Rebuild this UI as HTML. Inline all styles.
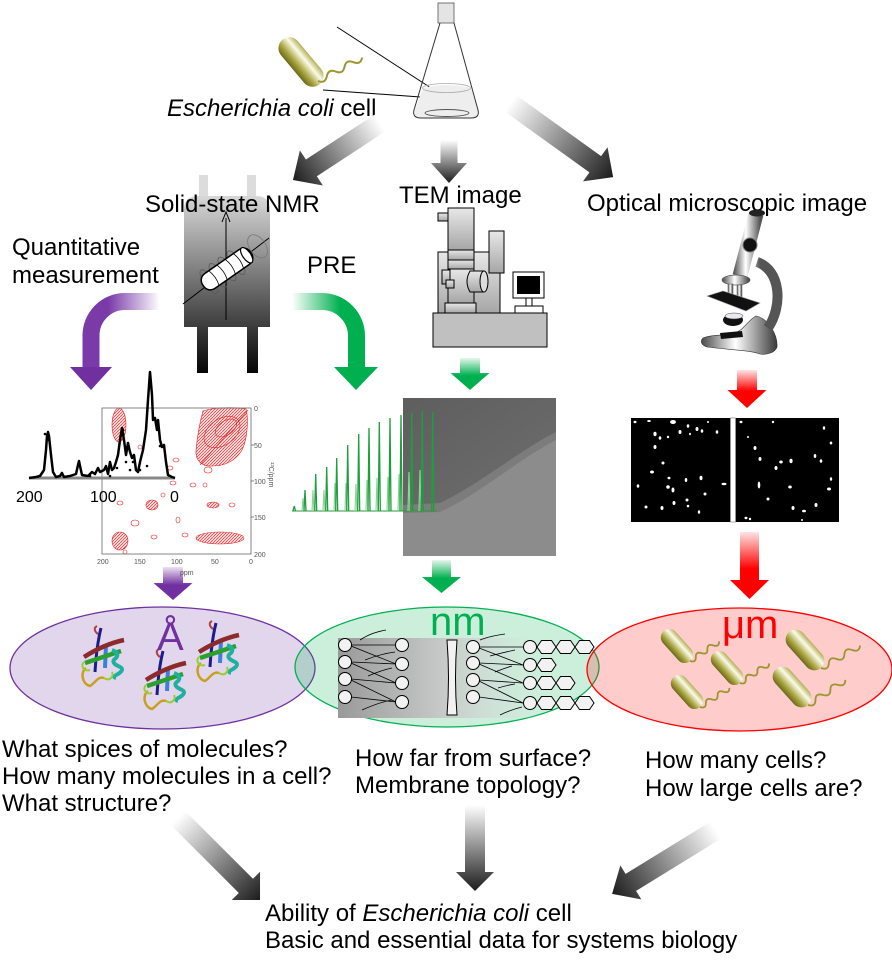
<!DOCTYPE html>
<html><head><meta charset="utf-8"><style>
html,body{margin:0;padding:0;background:#fff;}
svg{display:block;}
text{font-family:"Liberation Sans",Arial,sans-serif;}
</style></head><body>
<svg width="892" height="960" viewBox="0 0 892 960" xmlns="http://www.w3.org/2000/svg">
<defs>
<linearGradient id="gA" x1="0" y1="0" x2="1" y2="0"><stop offset="0" stop-color="#ffffff"/><stop offset="1" stop-color="#1c1c1c"/></linearGradient>
<linearGradient id="gG" x1="0" y1="0" x2="1" y2="0"><stop offset="0" stop-color="#e6f7ec"/><stop offset="0.55" stop-color="#00b050"/><stop offset="1" stop-color="#00b050"/></linearGradient>
<linearGradient id="gR" x1="0" y1="0" x2="1" y2="0"><stop offset="0" stop-color="#ffe4e4"/><stop offset="0.55" stop-color="#ff0000"/><stop offset="1" stop-color="#ff0000"/></linearGradient>
<linearGradient id="gP" x1="0" y1="0" x2="1" y2="0"><stop offset="0" stop-color="#ece2f3"/><stop offset="0.55" stop-color="#7030a0"/><stop offset="1" stop-color="#7030a0"/></linearGradient>
<linearGradient id="gPc" gradientUnits="userSpaceOnUse" x1="160" y1="0" x2="108" y2="0"><stop offset="0" stop-color="#ffffff"/><stop offset="1" stop-color="#7a3aa8"/></linearGradient>
<linearGradient id="gGc" gradientUnits="userSpaceOnUse" x1="292" y1="0" x2="340" y2="0"><stop offset="0" stop-color="#ffffff"/><stop offset="1" stop-color="#00b050"/></linearGradient>
<linearGradient id="gN" x1="0" y1="0" x2="0" y2="1"><stop offset="0" stop-color="#d8d8d8"/><stop offset="1" stop-color="#3c3c3c"/></linearGradient>
<linearGradient id="gL" x1="0" y1="0" x2="0" y2="1"><stop offset="0" stop-color="#3a3a3a"/><stop offset="1" stop-color="#050505"/></linearGradient>
<linearGradient id="gT" x1="0" y1="0" x2="0" y2="1"><stop offset="0" stop-color="#e8e8e8"/><stop offset="1" stop-color="#a6a6a6"/></linearGradient>
<linearGradient id="gM" x1="0" y1="0" x2="1" y2="0"><stop offset="0" stop-color="#4a4a4a"/><stop offset="0.45" stop-color="#ffffff"/><stop offset="1" stop-color="#3a3a3a"/></linearGradient>
<linearGradient id="gMt" gradientUnits="userSpaceOnUse" x1="734" y1="0" x2="760" y2="0"><stop offset="0" stop-color="#555"/><stop offset="0.45" stop-color="#fff"/><stop offset="1" stop-color="#555"/></linearGradient>
<linearGradient id="gO" x1="0" y1="0" x2="0" y2="1"><stop offset="0" stop-color="#b3af55"/><stop offset="0.3" stop-color="#fbfbe8"/><stop offset="0.7" stop-color="#a9a540"/><stop offset="1" stop-color="#6c691a"/></linearGradient>
<linearGradient id="gMem" x1="0" y1="0" x2="1" y2="0"><stop offset="0" stop-color="#999" stop-opacity="1"/><stop offset="0.5" stop-color="#c4c4c4" stop-opacity="0.9"/><stop offset="1" stop-color="#dcdcdc" stop-opacity="0"/></linearGradient>
<linearGradient id="gTem" x1="0" y1="0" x2="1" y2="1"><stop offset="0" stop-color="#5e5e5e"/><stop offset="1" stop-color="#6e6e6e"/></linearGradient>
<pattern id="rt" width="3" height="3" patternUnits="userSpaceOnUse"><rect width="3" height="3" fill="#fbe2e2"/><path d="M0,3 L3,0" stroke="#e83030" stroke-width="0.7"/></pattern>
<g id="prot">
  <path d="M101,628 C98,640 96,655 95,672" stroke="#1c1c8c" stroke-width="3" fill="none"/>
  <path d="M106,645 L105,668" stroke="#3a80dc" stroke-width="4" fill="none"/>
  <path d="M84,657 C95,650 110,643 124,640" stroke="#8b2b2b" stroke-width="4.5" fill="none"/>
  <path d="M85,663 L121,651" stroke="#2ca02c" stroke-width="4.5" fill="none"/>
  <path d="M112,650 q8,3 4,8 q-6,4 2,8 q8,3 0,8 q-6,3 -2,4" stroke="#1fb0a0" stroke-width="4" fill="none"/>
  <path d="M86,668 C80,672 82,684 90,686 C96,682 98,676 104,678" stroke="#c8a020" stroke-width="2.5" fill="none"/>
  <path d="M84,662 C80,666 84,672 90,670 M104,678 C110,682 114,676 112,672" stroke="#9acd32" stroke-width="2" fill="none"/>
  <path d="M98,634 C95,632 93,628 97,626" stroke="#b04040" stroke-width="2" fill="none"/>
</g>
<g id="cap"><rect x="-20" y="-8.5" width="40" height="17" rx="8.5" fill="url(#gO)"/></g>
<g id="capL"><rect x="-24" y="-10" width="48" height="20" rx="10" fill="url(#gO)"/></g>
</defs>

<!-- ===== TOP: E. coli + flask ===== -->
<line x1="337" y1="27" x2="448" y2="99" stroke="#000" stroke-width="1"/>
<line x1="323" y1="90" x2="448" y2="99" stroke="#000" stroke-width="1"/>
<g transform="translate(301,62) rotate(50)"><rect x="-29" y="-11" width="58" height="22" rx="11" fill="url(#gO)"/></g>
<path transform="translate(318,81) rotate(-28)" d="M0,0 q5,6 10,0 t10,0 t10,0 t10,0 t10,0" stroke="#9a9630" stroke-width="2" fill="none"/>
<rect x="438" y="3" width="16" height="20" fill="#e4e4e4" stroke="#555" stroke-width="0.8"/>
<path d="M423,88 Q446,82 471,88 L478,110 Q479,118 470,118 L422,118 Q413,118 415,110 Z" fill="#eeeeee"/>
<path d="M440,23 L414,110 Q412,118 421,118 L471,118 Q480,118 478,110 L454,23" fill="none" stroke="#333" stroke-width="1"/>
<ellipse cx="446.5" cy="88" rx="24" ry="4.5" fill="none" stroke="#aaa" stroke-width="0.8"/>
<ellipse cx="447" cy="113" rx="22" ry="3.5" fill="none" stroke="#555" stroke-width="0.9"/>
<text x="167" y="116" font-size="24"><tspan font-style="italic">Escherichia coli</tspan> cell</text>

<!-- gray arrows top -->
<path transform="translate(380,123) rotate(146.8)" d="M0,-10 H82 V-21 L104,0 L82,21 V10 H0 Z" fill="url(#gA)"/>
<path transform="translate(449,140) rotate(90)" d="M0,-8.5 H23 V-18 L43,0 L23,18 V8.5 H0 Z" fill="url(#gA)"/>
<path transform="translate(510,103) rotate(35.7)" d="M0,-10 H105 V-21 L127,0 L105,21 V10 H0 Z" fill="url(#gA)"/>

<!-- ===== NMR magnet ===== -->
<rect x="199" y="175" width="9" height="24" fill="#dcdcdc"/>
<rect x="247" y="175" width="9" height="24" fill="#dcdcdc"/>
<path d="M184,327 V210 Q184,196 198,196 H256 Q270,196 270,210 V327 Z" fill="url(#gN)"/>
<rect x="197" y="327" width="11" height="46" fill="url(#gL)"/>
<rect x="247" y="327" width="11" height="46" fill="url(#gL)"/>
<line x1="226" y1="320" x2="226" y2="218" stroke="#000" stroke-width="1"/>
<path d="M222,222 L226,212 L230,222" fill="none" stroke="#000" stroke-width="1"/>
<line x1="183" y1="304" x2="269" y2="238" stroke="#000" stroke-width="1"/>
<g transform="translate(227,269) rotate(-35)">
  <ellipse cx="-22" cy="0" rx="5" ry="14" fill="none" stroke="#555" stroke-width="0.7"/>
  <ellipse cx="-11" cy="0" rx="5" ry="14" fill="none" stroke="#555" stroke-width="0.7"/>
  <ellipse cx="0" cy="0" rx="5" ry="14" fill="none" stroke="#555" stroke-width="0.7"/>
  <ellipse cx="11" cy="0" rx="5" ry="14" fill="none" stroke="#555" stroke-width="0.7"/>
  <rect x="-29" y="-9" width="58" height="18" rx="8" fill="#fff" stroke="#000" stroke-width="1.5"/>
  <ellipse cx="24" cy="0" rx="4" ry="9" fill="#fff" stroke="#000" stroke-width="1.2"/>
  <path d="M-16,-9 q3,9 0,18 M-6,-9 q3,9 0,18 M4,-9 q3,9 0,18 M14,-9 q3,9 0,18" stroke="#000" stroke-width="0.8" fill="none"/>
  <ellipse cx="38" cy="-1" rx="8" ry="13" fill="none" stroke="#777" stroke-width="0.8"/>
</g>
<text x="145" y="212" font-size="24">Solid-state NMR</text>
<text x="12" y="255" font-size="24">Quantitative</text>
<text x="12" y="283" font-size="24">measurement</text>
<text x="307" y="273" font-size="24">PRE</text>

<!-- curved arrows -->
<path d="M158,301.5 H125 A34,34 0 0 0 91,335.5 V368" fill="none" stroke="url(#gPc)" stroke-width="17"/>
<polygon points="70,367 112,367 91,390" fill="#7030a0"/>
<path d="M292,301.5 H322 A34.5,34.5 0 0 1 356.5,336 V368" fill="none" stroke="url(#gGc)" stroke-width="17"/>
<polygon points="334,367 378,367 356,390" fill="#00b050"/>

<!-- ===== TEM ===== -->
<text x="399" y="203" font-size="24">TEM image</text>
<rect x="438" y="252" width="62" height="61" fill="url(#gT)" stroke="#000" stroke-width="1"/>
<rect x="489" y="231" width="15" height="42" fill="url(#gT)" stroke="#000" stroke-width="1"/>
<rect x="438" y="213" width="10" height="8" fill="url(#gT)" stroke="#000" stroke-width="1"/>
<rect x="448" y="208" width="26" height="42" fill="url(#gT)" stroke="#000" stroke-width="1"/>
<rect x="448" y="250" width="26" height="10" fill="url(#gT)" stroke="#000" stroke-width="1"/>
<rect x="448" y="260" width="26" height="9" fill="url(#gT)" stroke="#000" stroke-width="1"/>
<rect x="448" y="269" width="26" height="34" fill="url(#gT)" stroke="#000" stroke-width="1"/>
<rect x="442" y="270" width="8" height="14" fill="url(#gT)" stroke="#000" stroke-width="1"/>
<rect x="446" y="280" width="8" height="8" fill="url(#gT)" stroke="#000" stroke-width="1"/>
<rect x="445" y="303" width="31" height="10" fill="url(#gT)" stroke="#000" stroke-width="1"/>
<path d="M470,271 H484 V292 H470 Q464,281.5 470,271 Z" fill="url(#gT)" stroke="#000" stroke-width="1"/>
<ellipse cx="484" cy="281.5" rx="4" ry="10.5" fill="#ddd" stroke="#000" stroke-width="1"/>
<rect x="433" y="313" width="114" height="34" fill="#c0c0c0" stroke="#000" stroke-width="1"/>
<rect x="513" y="272" width="31" height="26" fill="#fff" stroke="#000" stroke-width="1"/>
<rect x="517" y="276" width="23" height="18" fill="#000"/>
<rect x="526" y="298" width="6" height="8" fill="#fff" stroke="#000" stroke-width="1"/>
<rect x="515" y="306" width="28" height="7" fill="#fff" stroke="#000" stroke-width="1"/>

<!-- ===== Microscope ===== -->
<text x="587" y="211" font-size="24">Optical microscopic image</text>
<path d="M703,338 C712,334 725,336 735,333 C744,330 748,320 756,316 C768,318 778,335 777,347 C775,353 766,355 760,354 C750,350 730,350 707,347 C701,345 700,341 703,338 Z" fill="url(#gM)" stroke="#333" stroke-width="0.6"/>
<path d="M757,262 C781,270 783,306 768,328" fill="none" stroke="url(#gMt)" stroke-width="10"/>
<line x1="756" y1="214" x2="740" y2="276" stroke="url(#gMt)" stroke-width="15"/>
<ellipse cx="757" cy="213" rx="8" ry="3.5" fill="#222"/>
<circle cx="750" cy="245" r="7" fill="#111" stroke="#777" stroke-width="1"/>
<ellipse cx="736" cy="280" rx="14" ry="5" fill="url(#gM)" stroke="#555" stroke-width="0.7"/>
<rect x="728" y="284" width="5" height="12" fill="url(#gM)" stroke="#555" stroke-width="0.5"/>
<rect x="737" y="285" width="5" height="12" fill="url(#gM)" stroke="#555" stroke-width="0.5"/>
<polygon points="707,296 723,291 760,303 746,311" fill="#111" stroke="#999" stroke-width="0.6"/>
<ellipse cx="733" cy="320" rx="10" ry="6" fill="#111"/>
<ellipse cx="734" cy="316" rx="9" ry="3" fill="#e8e8f0" stroke="#444" stroke-width="0.5"/>
<polygon points="720,333 742,331 743,337 721,339" fill="#111"/>

<!-- small straight arrows -->
<path transform="translate(470,358) rotate(90)" d="M0,-10 H15 V-19.5 L32,0 L15,19.5 V10 H0 Z" fill="url(#gG)"/>
<path transform="translate(747,370) rotate(90)" d="M0,-10 H20 V-19.5 L38,0 L20,19.5 V10 H0 Z" fill="url(#gR)"/>
<path transform="translate(749.5,532) rotate(90)" d="M0,-9.5 H48 V-19.5 L67,0 L48,19.5 V9.5 H0 Z" fill="url(#gR)"/>
<path transform="translate(173,567) rotate(90)" d="M0,-10 H16 V-19.5 L33,0 L16,19.5 V10 H0 Z" fill="url(#gP)"/>
<path transform="translate(441.5,560) rotate(90)" d="M0,-9.5 H17 V-19.5 L33,0 L17,19.5 V9.5 H0 Z" fill="url(#gG)"/>

<!-- ===== 2D NMR plot ===== -->
<g fill="url(#rt)" stroke="#e62020" stroke-width="0.6">
  <path d="M203,411 C215,407 235,407 246,409 C249,420 247,440 242,450 C236,460 226,466 212,466 C202,467 195,460 196,450 C197,440 199,425 203,411 Z"/>
  <ellipse cx="119" cy="425" rx="7" ry="17"/>
  <ellipse cx="220" cy="538" rx="24" ry="6"/>
  <ellipse cx="120" cy="541" rx="8" ry="9"/>
  <ellipse cx="152" cy="505" rx="6" ry="5"/>
  <ellipse cx="213" cy="505" rx="6" ry="3"/>
</g>
<g fill="none" stroke="#e62020" stroke-width="0.6">
  <ellipse cx="222" cy="432" rx="20" ry="13" transform="rotate(-35 222 432)"/>
  <ellipse cx="226" cy="428" rx="12" ry="7" transform="rotate(-35 226 428)"/>
  <line x1="248" y1="410" x2="200" y2="465"/>
  <ellipse cx="208" cy="470" rx="4" ry="3"/>
  <ellipse cx="135" cy="523" rx="4" ry="3"/><ellipse cx="154" cy="537" rx="3" ry="2"/>
  <ellipse cx="185" cy="535" rx="3" ry="2"/><ellipse cx="173" cy="483" rx="3" ry="2"/>
  <ellipse cx="193" cy="485" rx="3" ry="2"/><ellipse cx="178" cy="520" rx="2" ry="3"/>
  <ellipse cx="120" cy="503" rx="3" ry="2"/><ellipse cx="163" cy="495" rx="2" ry="2"/>
  <ellipse cx="176" cy="460" rx="3" ry="2"/><ellipse cx="170" cy="468" rx="3" ry="2"/>
  <ellipse cx="140" cy="447" rx="2" ry="2"/><ellipse cx="205" cy="485" rx="2" ry="2"/>
  <ellipse cx="232" cy="505" rx="3" ry="2"/><ellipse cx="125" cy="552" rx="2" ry="2"/>
</g>
<rect x="102" y="408" width="149" height="146" fill="none" stroke="#666" stroke-width="0.8"/>
<g stroke="#666" stroke-width="0.8">
  <line x1="251" y1="445" x2="254" y2="445"/><line x1="251" y1="481" x2="254" y2="481"/><line x1="251" y1="517" x2="254" y2="517"/>
</g>
<g font-size="7" fill="#555">
  <text x="254" y="411">0</text><text x="254" y="448">50</text><text x="254" y="484">100</text><text x="254" y="520">150</text><text x="254" y="557">200</text>
  <text x="97" y="564">200</text><text x="134" y="564">150</text><text x="171" y="564">100</text><text x="211" y="564">50</text><text x="249" y="564">0</text>
  <text x="180" y="575">ppm</text>
  <text transform="translate(269,462) rotate(90)">¹³C/ppm</text>
</g>
<!-- 1D spectrum -->
<line x1="29" y1="478" x2="175" y2="478" stroke="#888" stroke-width="3"/>
<polyline fill="none" stroke="#000" stroke-width="2.5" stroke-linejoin="round" points="29,478 36,477 40,476 44,470 46,450 47,436 48,432 49,436 51,455 53,472 56,477 60,476 62,473 64,477 70,476 76,474 78,465 79,461 80,466 82,475 88,476 92,472 95,474 98,468 100,472 104,470 106,466 108,474 110,462 112,470 114,468 116,462 118,455 120,440 122,428 124,440 126,455 128,443 130,452 132,458 134,455 136,470 138,472 140,462 143,450 146,430 148,400 150,372 152,395 153,420 155,418 157,430 158,420 160,440 162,447 164,445 166,462 168,475 172,477 175,478"/>
<g fill="#000">
  <circle cx="45" cy="434" r="1.3"/><circle cx="49" cy="440" r="1.3"/><circle cx="123" cy="430" r="1.3"/><circle cx="117" cy="468" r="1.3"/>
  <circle cx="126" cy="462" r="1.3"/><circle cx="130" cy="470" r="1.3"/><circle cx="140" cy="470" r="1.3"/><circle cx="147" cy="466" r="1.3"/>
  <circle cx="160" cy="446" r="1.3"/><circle cx="110" cy="476" r="1.3"/><circle cx="90" cy="476" r="1.3"/><circle cx="133" cy="462" r="1.3"/>
</g>
<text x="16" y="502" font-size="16">200</text>
<text x="90" y="502" font-size="16">100</text>
<text x="170" y="502" font-size="16">0</text>

<!-- ===== TEM image & PRE ===== -->
<rect x="403" y="398" width="153" height="158" fill="#8c8c8c"/>
<path d="M403,398 H556 V440 C520,458 480,494 440,512 L403,513 Z" fill="#7c7c7c"/>
<path d="M403,398 H556 V432 C520,450 480,484 440,503 L403,505 Z" fill="url(#gTem)"/>
<line x1="292" y1="511" x2="437" y2="511" stroke="#2a9a3a" stroke-width="1"/>
<g stroke="#8fd39a" stroke-width="1.2" fill="none">
  <path d="M302,511 L303,498 L304,511"/><path d="M312,511 L313,490 L314,511"/><path d="M323,511 L324,490 L325,511"/>
  <path d="M334,511 L335,483 L336,511"/><path d="M345,511 L346,483 L347,511"/><path d="M355,511 L356,484 L357,511"/>
  <path d="M366,511 L367,480 L368,511"/><path d="M376,511 L377,478 L378,511"/><path d="M387,511 L388,477 L389,511"/>
  <path d="M398,511 L399,474 L400,511"/><path d="M408,511 L409,472 L410,511"/><path d="M419,511 L420,470 L421,511"/>
</g>
<g stroke="#1e9e3c" stroke-width="1.3" fill="none">
  <path d="M293,511 L294.3,506 L295.5,511"/><path d="M304,511 L305,490 L306,511"/><path d="M314.7,511 L315.7,474 L316.7,511"/>
  <path d="M325.7,511 L326.7,467 L327.7,511"/><path d="M335.7,511 L336.7,458 L337.7,511"/><path d="M346.7,511 L347.7,445 L348.7,511"/>
  <path d="M357.7,511 L358.7,434 L359.7,511"/><path d="M368,511 L369,428 L370,511"/><path d="M378.3,511 L379.3,422 L380.3,511"/>
  <path d="M389,511 L390,418 L391,511"/><path d="M400,511 L401,415 L402,511"/><path d="M410.7,511 L411.7,413 L412.7,511"/>
  <path d="M421.3,511 L422.3,411 L423.3,511"/><path d="M431.7,511 L432.7,412 L433.7,511"/>
</g>

<!-- ===== Microscope image ===== -->
<rect x="631" y="418" width="208" height="104" fill="#000"/>
<rect x="730.5" y="418" width="5" height="104" fill="#fff" stroke="#999" stroke-width="0.8"/>
<g fill="#fff">
  <ellipse cx="635" cy="422" rx="1.5" ry="1.2"/><ellipse cx="649" cy="421" rx="1.8" ry="1"/><ellipse cx="673" cy="422" rx="3" ry="2"/>
  <ellipse cx="688" cy="426" rx="1.3" ry="1.8"/><ellipse cx="697" cy="429" rx="1.5" ry="2"/><ellipse cx="702" cy="431" rx="1.3" ry="1.8"/>
  <ellipse cx="708" cy="422" rx="1" ry="1"/><ellipse cx="717" cy="432" rx="1.3" ry="1.8"/><ellipse cx="680" cy="432" rx="1.5" ry="2"/>
  <ellipse cx="690" cy="434" rx="1" ry="1.2"/><ellipse cx="655" cy="434" rx="1.6" ry="2.2"/><ellipse cx="660" cy="438" rx="1.3" ry="1.8"/>
  <ellipse cx="668" cy="437" rx="1.2" ry="1.2"/><ellipse cx="655" cy="447" rx="1.5" ry="2"/><ellipse cx="663" cy="463" rx="1.5" ry="1.5"/>
  <ellipse cx="652" cy="472" rx="2" ry="1.5"/><ellipse cx="669" cy="478" rx="1.5" ry="1.3"/><ellipse cx="686" cy="480" rx="1.3" ry="2"/>
  <ellipse cx="701" cy="478" rx="1.5" ry="2.2"/><ellipse cx="638" cy="486" rx="1.3" ry="1.8"/><ellipse cx="668" cy="487" rx="1.8" ry="1.8"/>
  <ellipse cx="673" cy="490" rx="1.5" ry="2.5"/><ellipse cx="705" cy="494" rx="1.5" ry="1.5"/><ellipse cx="724" cy="484" rx="2.5" ry="1.2"/>
  <ellipse cx="687" cy="500" rx="1.5" ry="1.5"/><ellipse cx="674" cy="503" rx="1.5" ry="2"/><ellipse cx="646" cy="507" rx="1.5" ry="1.5"/>
  <ellipse cx="662" cy="508" rx="1.5" ry="2"/><ellipse cx="699" cy="512" rx="1.2" ry="1.8"/><ellipse cx="688" cy="506" rx="1.3" ry="1.3"/>
  <ellipse cx="741" cy="422" rx="1.5" ry="1.2"/><ellipse cx="773" cy="422" rx="1.2" ry="1.2"/><ellipse cx="824" cy="428" rx="1.2" ry="1.8"/>
  <ellipse cx="748" cy="437" rx="1" ry="1"/><ellipse cx="755" cy="448" rx="1.5" ry="2"/><ellipse cx="831" cy="443" rx="1.3" ry="1.5"/>
  <ellipse cx="760" cy="459" rx="1.5" ry="2"/><ellipse cx="781" cy="462" rx="1.8" ry="1.5"/><ellipse cx="791" cy="461" rx="1.6" ry="2.2"/>
  <ellipse cx="815" cy="456" rx="1.3" ry="2"/><ellipse cx="821" cy="461" rx="1.3" ry="1.8"/><ellipse cx="776" cy="468" rx="1.5" ry="2"/>
  <ellipse cx="831" cy="479" rx="1.2" ry="1.8"/><ellipse cx="759" cy="485" rx="1.3" ry="3.5"/><ellipse cx="790" cy="487" rx="1.8" ry="1.5"/>
  <ellipse cx="829" cy="489" rx="2" ry="1.5"/><ellipse cx="768" cy="499" rx="1.5" ry="1.5"/><ellipse cx="816" cy="505" rx="1.5" ry="2"/>
  <ellipse cx="793" cy="508" rx="1.5" ry="2"/><ellipse cx="804" cy="511" rx="2" ry="1.3"/><ellipse cx="746" cy="518" rx="1.5" ry="1.2"/>
  <ellipse cx="750" cy="519" rx="1.2" ry="1.2"/><ellipse cx="802" cy="520" rx="1" ry="1"/>
</g>

<!-- ===== Ellipses ===== -->
<ellipse cx="162.5" cy="668" rx="152.5" ry="61" fill="#7030a0" fill-opacity="0.2" stroke="#7030a0" stroke-width="1.3"/>
<ellipse cx="447" cy="667" rx="152" ry="60" fill="#00b050" fill-opacity="0.2" stroke="#00b050" stroke-width="1.3"/>
<ellipse cx="739.5" cy="669.5" rx="152.5" ry="61.5" fill="#ff0000" fill-opacity="0.2" stroke="#ff0000" stroke-width="1.3"/>

<!-- proteins -->
<use href="#prot"/>
<use href="#prot" x="62" y="23"/>
<use href="#prot" x="115" y="-5"/>
<text x="157" y="650" font-size="40" fill="#7030a0">Å</text>

<!-- membrane -->
<rect x="338" y="638" width="205" height="80" fill="url(#gMem)"/>
<g stroke="#000" stroke-width="0.8" fill="none">
  <line x1="351" y1="645" x2="396" y2="645"/><line x1="351" y1="646" x2="396" y2="664"/>
  <line x1="351" y1="662" x2="396" y2="664"/><line x1="351" y1="663" x2="396" y2="683"/>
  <line x1="351" y1="679" x2="396" y2="683"/><line x1="351" y1="680" x2="396" y2="702"/>
  <line x1="351" y1="697" x2="396" y2="702"/>
  <path d="M360,640 Q370,633 386,630 M365,660 Q380,654 395,652 M368,676 Q382,670 392,668 M362,710 Q380,702 392,700"/>
  <line x1="479" y1="647" x2="523" y2="647"/><line x1="479" y1="648" x2="523" y2="665"/>
  <line x1="479" y1="663" x2="523" y2="665"/><line x1="479" y1="664" x2="523" y2="683"/>
  <line x1="479" y1="680" x2="523" y2="683"/><line x1="479" y1="681" x2="523" y2="703"/>
  <line x1="479" y1="697" x2="523" y2="703"/>
  <path d="M480,640 Q490,636 505,634 M490,656 Q505,652 515,650 M495,672 Q505,668 512,666 M498,688 Q508,685 515,684 M500,715 Q510,710 522,707"/>
</g>
<g fill="#f2f2f2" stroke="#000" stroke-width="1">
  <circle cx="345" cy="645" r="6.5"/><circle cx="345" cy="662" r="6.5"/><circle cx="345" cy="679" r="6.5"/><circle cx="345" cy="697" r="6.5"/>
  <circle cx="402" cy="645" r="6.5"/><circle cx="402" cy="664" r="6.5"/><circle cx="402" cy="683" r="6.5"/><circle cx="402" cy="702" r="6.5"/>
  <circle cx="473" cy="647" r="6.5"/><circle cx="473" cy="663" r="6.5"/><circle cx="473" cy="680" r="6.5"/><circle cx="473" cy="697" r="6.5"/>
  <circle cx="530" cy="647" r="6.5"/><circle cx="530" cy="665" r="6.5"/><circle cx="530" cy="683" r="6.5"/><circle cx="530" cy="703" r="6.5"/>
  <path d="M447,640 H457 Q454,678 457,715 H447 Q450,678 447,640 Z"/>
  <polygon points="537,647 541.5,640.5 551.5,640.5 556,647 551.5,653.5 541.5,653.5"/>
  <polygon points="556,647 560.5,640.5 570.5,640.5 575,647 570.5,653.5 560.5,653.5"/>
  <polygon points="575,647 579.5,640.5 589.5,640.5 594,647 589.5,653.5 579.5,653.5"/>
  <polygon points="537,665 541.5,658.5 551.5,658.5 556,665 551.5,671.5 541.5,671.5"/>
  <polygon points="537,683 541.5,676.5 551.5,676.5 556,683 551.5,689.5 541.5,689.5"/>
  <polygon points="556,683 560.5,676.5 570.5,676.5 575,683 570.5,689.5 560.5,689.5"/>
  <polygon points="537,703 541.5,696.5 551.5,696.5 556,703 551.5,709.5 541.5,709.5"/>
  <polygon points="556,703 560.5,696.5 570.5,696.5 575,703 570.5,709.5 560.5,709.5"/>
  <polygon points="575,703 579.5,696.5 589.5,696.5 594,703 589.5,709.5 579.5,709.5"/>
</g>
<text x="430" y="635" font-size="40" fill="#00b050">nm</text>

<!-- bacteria -->
<use href="#cap" transform="translate(677,646) rotate(48)"/>
<use href="#cap" transform="translate(687,692) rotate(48)"/>
<use href="#cap" transform="translate(727,668) rotate(48)"/>
<use href="#capL" transform="translate(805,650) rotate(48)"/>
<use href="#capL" transform="translate(792,687) rotate(48)"/>
<g stroke="#9a9630" stroke-width="1.8" fill="none">
  <path transform="translate(690,661) rotate(-34)" d="M0,0 q4,5 7,0 t7,0 t7,0 t7,0 t7,0"/>
  <path transform="translate(700,707) rotate(-33)" d="M0,0 q4,5 7,0 t7,0 t7,0 t7,0 t7,0"/>
  <path transform="translate(740,683) rotate(-34)" d="M0,0 q4,5 7,0 t7,0 t7,0 t7,0 t7,0"/>
  <path transform="translate(821,668) rotate(-30)" d="M0,0 q5,6 9,0 t9,0 t9,0 t9,0 t9,0"/>
  <path transform="translate(808,705) rotate(-34)" d="M0,0 q5,6 9,0 t9,0 t9,0 t9,0 t9,0"/>
</g>
<text x="722" y="638" font-size="40" fill="#ff0000">μm</text>

<!-- ===== Question text ===== -->
<g font-size="24" fill="#000">
  <text x="2" y="757">What spices of molecules?</text>
  <text x="2" y="784">How many molecules in a cell?</text>
  <text x="2" y="811">What structure?</text>
  <text x="355" y="766">How far from surface?</text>
  <text x="355" y="793">Membrane topology?</text>
  <text x="645" y="768">How many cells?</text>
  <text x="645" y="796">How large cells are?</text>
</g>

<!-- gray arrows bottom -->
<path transform="translate(178,818) rotate(45)" d="M0,-10 H96 V-20 L116,0 L96,20 V10 H0 Z" fill="url(#gA)"/>
<path transform="translate(475,805) rotate(90)" d="M0,-10 H67 V-19 L86,0 L67,19 V10 H0 Z" fill="url(#gA)"/>
<path transform="translate(716,830) rotate(148.4)" d="M0,-10 H100 V-20 L122,0 L100,20 V10 H0 Z" fill="url(#gA)"/>

<g font-size="24" fill="#000">
  <text x="265" y="921">Ability of <tspan font-style="italic">Escherichia coli</tspan> cell</text>
  <text x="265" y="948">Basic and essential data for systems biology</text>
</g>
</svg>
</body></html>
